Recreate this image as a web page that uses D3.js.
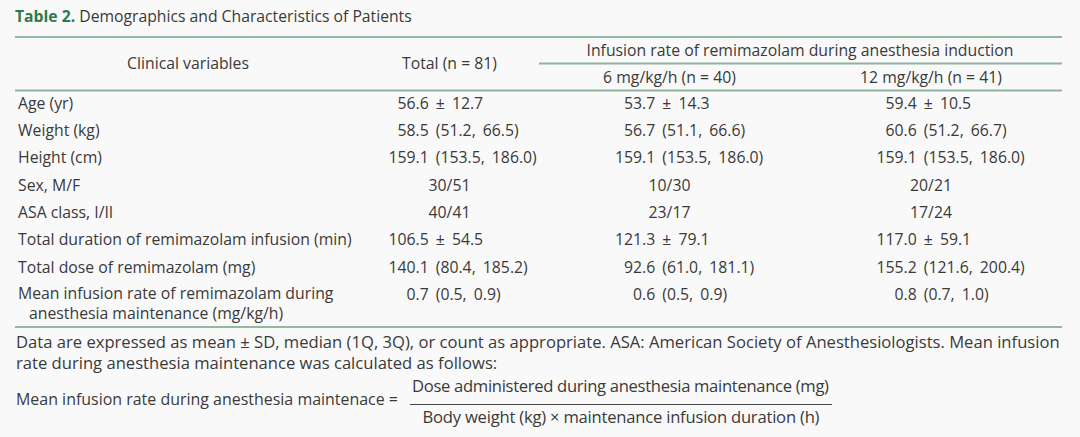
<!DOCTYPE html>
<html>
<head>
<meta charset="utf-8">
<script src="https://cdn.jsdelivr.net/npm/d3@7"></script>
<style>
  html, body { margin: 0; padding: 0; background: #f9f9f9; }
  svg { display: block; }
  text { font-family: "Open Sans", "Liberation Sans", Arial, sans-serif; fill: #3a3a3a; }
</style>
</head>
<body>
<svg id="chart" width="1080" height="437"></svg>
<script>
// ---------- data ----------
const titleBold = "Table 2.";
const titleRest = " Demographics and Characteristics of Patients";
const groupHeader = "Infusion rate of remimazolam during anesthesia induction";
const columnHeaders = ["Clinical variables", "Total (n = 81)", "6 mg/kg/h (n = 40)", "12 mg/kg/h (n = 41)"];
const rowLabels = [
  "Age (yr)",
  "Weight (kg)",
  "Height (cm)",
  "Sex, M/F",
  "ASA class, I/II",
  "Total duration of remimazolam infusion (min)",
  "Total dose of remimazolam (mg)",
  "Mean infusion rate of remimazolam during|anesthesia maintenance (mg/kg/h)"
];
const totalValues = ["56.6 ± 12.7", "58.5 (51.2, 66.5)", "159.1 (153.5, 186.0)", "30/51", "40/41", "106.5 ± 54.5", "140.1 (80.4, 185.2)", "0.7 (0.5, 0.9)"];
const dose6Values = ["53.7 ± 14.3", "56.7 (51.1, 66.6)", "159.1 (153.5, 186.0)", "10/30", "23/17", "121.3 ± 79.1", "92.6 (61.0, 181.1)", "0.6 (0.5, 0.9)"];
const dose12Values = ["59.4 ± 10.5", "60.6 (51.2, 66.7)", "159.1 (153.5, 186.0)", "20/21", "17/24", "117.0 ± 59.1", "155.2 (121.6, 200.4)", "0.8 (0.7, 1.0)"];
const footnoteLines = [
  "Data are expressed as mean ± SD, median (1Q, 3Q), or count as appropriate. ASA: American Society of Anesthesiologists. Mean infusion",
  "rate during anesthesia maintenance was calculated as follows:"
];
const formulaLeft = "Mean infusion rate during anesthesia maintenace =";
const formulaNumerator = "Dose administered during anesthesia maintenance (mg)";
const formulaDenominator = "Body weight (kg) × maintenance infusion duration (h)";

// ---------- helpers ----------
const svg = d3.select("#chart");
function fitSize(str, targetWidth, weight) {
  const t = svg.append("text").attr("font-size", 100).attr("font-weight", weight || "normal").text(str);
  const w = t.node().getComputedTextLength();
  t.remove();
  return 100 * targetWidth / w;
}

// ---------- layout ----------
const left = 15, right = 1062;
const green = "#2c7a4d", ruleLight = "#8fb39d";
const fs = fitSize(rowLabels[5], 334);          // table text size
const fnFs = fitSize(footnoteLines[0], 1044);   // footnote text size

// title
const tfs = fitSize(titleBold + titleRest, 400);
const title = svg.append("text").attr("x", left).attr("y", 22).attr("font-size", tfs * 0.985);
title.append("tspan").text(titleBold).attr("font-weight", "bold").style("fill", green);
title.append("tspan").text(titleRest);

// rules
svg.append("line").attr("x1", left).attr("x2", right).attr("y1", 37).attr("y2", 37)
  .attr("stroke", green).attr("stroke-width", 1.2);
svg.append("line").attr("x1", 539).attr("x2", right).attr("y1", 63.5).attr("y2", 63.5)
  .attr("stroke", ruleLight).attr("stroke-width", 2);
svg.append("line").attr("x1", left).attr("x2", right).attr("y1", 90.5).attr("y2", 90.5)
  .attr("stroke", ruleLight).attr("stroke-width", 2);
svg.append("line").attr("x1", left).attr("x2", right).attr("y1", 327).attr("y2", 327)
  .attr("stroke", green).attr("stroke-width", 1.2);

// header texts
const headerX = [188, 449.5, 669.5, 931];
svg.append("text").attr("x", 800).attr("y", 55.5).attr("text-anchor", "middle")
  .attr("font-size", fs).text(groupHeader);
svg.selectAll("text.colhead").data(columnHeaders).join("text")
  .attr("class", "colhead")
  .attr("x", (d, i) => headerX[i])
  .attr("y", (d, i) => i < 2 ? 69 : 82.5)
  .attr("text-anchor", "middle")
  .attr("font-size", fs)
  .text(d => d);

// rows
const y = d3.scalePoint().domain(rowLabels).range([103.5, 295]);
const base = 5; // baseline offset from row centre

const labelG = svg.append("g");
rowLabels.forEach(lbl => {
  const parts = lbl.split("|");
  const t = labelG.append("text")
    .attr("y", y(lbl) + base - (parts.length > 1 ? 1.5 : 0))
    .attr("font-size", fs);
  parts.forEach((p, k) => {
    t.append("tspan")
      .attr("x", k === 0 ? 18 : 29)
      .attr("dy", k === 0 ? 0 : 20)
      .text(p);
  });
});

// value columns: decimal-aligned, fractions centred under the header
const columns = [
  { values: totalValues, dec: 415.5, mid: headerX[1] },
  { values: dose6Values, dec: 642, mid: headerX[2] },
  { values: dose12Values, dec: 903.5, mid: headerX[3] }
];
columns.forEach(col => {
  const g = svg.append("g").attr("word-spacing", 3);
  col.values.forEach((v, i) => {
    const yy = y(rowLabels[i]) + base;
    const dot = v.indexOf(".");
    if (dot < 0) {
      g.append("text").attr("x", col.mid).attr("y", yy).attr("text-anchor", "middle")
        .attr("font-size", fs).text(v);
    } else {
      g.append("text").attr("x", col.dec).attr("y", yy).attr("text-anchor", "end")
        .attr("font-size", fs).text(v.slice(0, dot));
      g.append("text").attr("x", col.dec).attr("y", yy).attr("text-anchor", "start")
        .attr("font-size", fs).text(v.slice(dot));
    }
  });
});

// footnote
footnoteLines.forEach((t, i) => {
  svg.append("text").attr("x", 16).attr("y", 347.5 + i * 21).attr("font-size", fnFs).text(t);
});
svg.append("text").attr("x", 16).attr("y", 404.5).attr("font-size", fnFs)
  .attr("textLength", 382).attr("lengthAdjust", "spacingAndGlyphs").text(formulaLeft);
svg.append("text").attr("x", 620.5).attr("y", 392).attr("text-anchor", "middle")
  .attr("font-size", fnFs).attr("textLength", 417).attr("lengthAdjust", "spacing").text(formulaNumerator);
svg.append("text").attr("x", 621).attr("y", 423).attr("text-anchor", "middle")
  .attr("font-size", fnFs).attr("textLength", 397).attr("lengthAdjust", "spacing").text(formulaDenominator);
svg.append("line").attr("x1", 410).attr("x2", 832).attr("y1", 404.5).attr("y2", 404.5)
  .attr("stroke", "#444").attr("stroke-width", 1);
</script>
</body>
</html>
